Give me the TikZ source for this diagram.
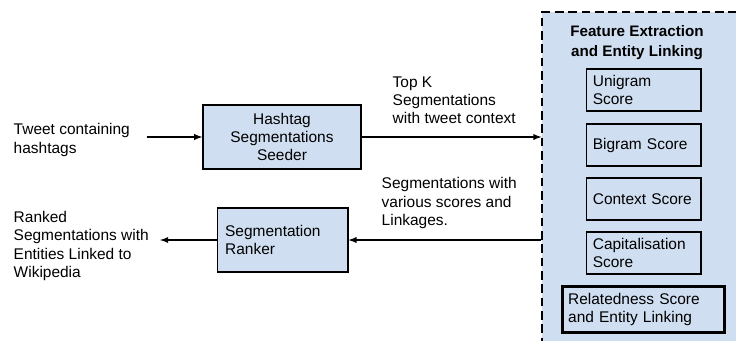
\documentclass[tikz,border=0pt]{standalone}
\usepackage{fontspec}
\setmainfont{Liberation Sans}
\usetikzlibrary{positioning}
\definecolor{boxblue}{RGB}{208,222,241}
\begin{document}
\begin{tikzpicture}[x=0.75pt,y=-0.75pt,-latex,line width=1.1pt,
font=\fontsize{11.6}{13.6}\selectfont,
block/.style={draw,fill=boxblue,line width=1pt,inner sep=0pt},
score/.style={draw,fill=boxblue,line width=1pt,minimum width=86pt,minimum height=31.5pt,text width=76pt,align=left,inner sep=0pt},
plain/.style={align=left,inner sep=0pt,anchor=west}]

\clip (0,0) rectangle (736,340);
\useasboundingbox (0,0) rectangle (736,340);

\node[draw,fill=boxblue,dash pattern=on 6.5pt off 3.5pt,line width=1.3pt,minimum width=172pt,minimum height=262pt,inner sep=0pt] (fe) at (657,187) {};
\node[align=center,font=\fontsize{11.4}{14.4}\selectfont\bfseries] (title) at (637,42.5) {Feature Extraction\\and Entity Linking};

\node[score] (uni) at (643.5,90) {Unigram\\Score};
\node[score] (bi) at (643.5,145) {Bigram Score};
\node[score] (ctx) at (643.5,199) {Context Score};
\node[score] (cap) at (643.5,253) {Capitalisation\\Score};
\node[score,line width=2.2pt,minimum width=122pt,minimum height=35pt,text width=113pt] (rel) at (643.5,309.5) {Relatedness Score\\and Entity Linking};

\node[block,minimum width=118.5pt,minimum height=48pt,align=center] (seeder) at (282,137) {Hashtag\\Segmentations\\Seeder};
\node[block,minimum width=98pt,minimum height=48pt,text width=86pt,align=left] (ranker) at (282.5,240) {Segmentation\\Ranker};

\node[plain] (tweet) at (13,140) {Tweet containing\\hashtags};
\node[plain] (ranked) at (13,246) {Ranked\\Segmentations with\\Entities Linked to\\Wikipedia};
\node[plain] (topk) at (392,100) {Top K\\Segmentations\\with tweet context};
\node[plain] (scores) at (381,203) {Segmentations with\\various scores and\\Linkages.};

\path (tweet.east |- seeder) edge[shorten <=12pt] (seeder);
\path (seeder) edge (seeder -| fe.west);
\path (ranker -| fe.west) edge (ranker);
\path (ranker) edge[shorten >=8pt] (ranked.east |- ranker);

\end{tikzpicture}
\end{document}
